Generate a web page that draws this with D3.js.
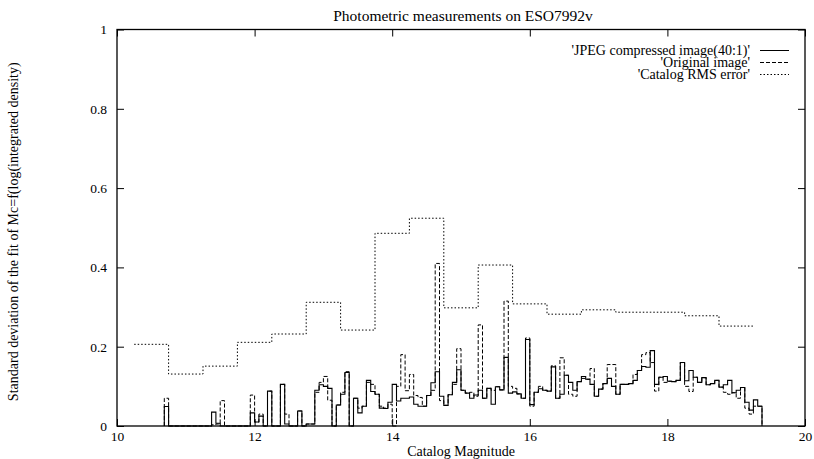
<!DOCTYPE html>
<html>
<head>
<meta charset="utf-8">
<script src="https://cdn.jsdelivr.net/npm/d3@7/dist/d3.min.js"></script>
<style>
  html, body { margin: 0; padding: 0; background: #fff; }
  svg { display: block; }
  text { font-family: "Liberation Serif", "DejaVu Serif", serif; fill: #000; }
</style>
</head>
<body>
<svg id="chart" width="814" height="459"></svg>
<script>
// ---------------- data ----------------
const title = "Photometric measurements on ESO7992v";
const xLabel = "Catalog Magnitude";
const yLabel = "Standard deviation of the fit of Mc=f(log(integrated density)";
const xTicks = [10, 12, 14, 16, 18, 20];
const yTicks = [0, 0.2, 0.4, 0.6, 0.8, 1];
const seriesNames = ["'JPEG compressed image(40:1)'", "'Original image'", "'Catalog RMS error'"];

// fine histograms: bins of 1/16 magnitude starting at 10.6875
const histStart = 10.6875;
const histBin = 0.0625;
const jpegValues = [
  0.049, 0,0,0,0,0,0,0,0,0,0,
  0.035, 0.007, 0,
  0,0,0,0,0,0,
  0.033, 0.01, 0.025, 0, 0.088, 0, 0, 0.105, 0.005, 0,
  0, 0.038, 0, 0.005, 0.005, 0.09, 0.104, 0.1, 0.095, 0,
  0.053, 0.08, 0.135, 0, 0.07, 0.033, 0.05, 0.115, 0.087, 0.08,
  0.045, 0.044, 0.06, 0.105, 0.063, 0.07, 0.07, 0.073, 0.055, 0.05,
  0.05, 0.077, 0.109, 0.137, 0.075, 0.052, 0.079, 0.11, 0.142, 0.09,
  0.083, 0.07, 0.078, 0.09, 0.07, 0.095, 0.055, 0.099, 0.091, 0.173,
  0.083, 0.086, 0.081, 0.07, 0.218, 0.054, 0.085, 0.094, 0.09, 0.088,
  0.149, 0.07, 0.08, 0.128, 0.11, 0.09, 0.112, 0.125, 0.118, 0.105,
  0.075, 0.093, 0.107, 0.12, 0.1, 0.08, 0.105, 0.105, 0.107, 0.115,
  0.14, 0.15, 0.148, 0.19, 0.105, 0.123, 0.125, 0.113, 0.112, 0.115,
  0.16, 0.114, 0.14, 0.123, 0.11, 0.122, 0.104, 0.107, 0.115, 0.098,
  0.104, 0.115, 0.084, 0.09, 0.097, 0.06, 0.04, 0.066, 0.05
];
const origValues = [
  0.07, 0,0,0,0,0,0,0,0,0,0,
  0.003, 0.005, 0.064,
  0,0,0,0,0,0,
  0.078, 0.01, 0.03, 0, 0.088, 0, 0, 0.105, 0.03, 0,
  0, 0.038, 0, 0.005, 0.005, 0.085, 0.11, 0.125, 0.065, 0,
  0.053, 0.085, 0.137, 0, 0.07, 0.045, 0.05, 0.11, 0.105, 0.08,
  0.05, 0.045, 0.055, 0, 0.1, 0.18, 0.089, 0.13, 0.077, 0.072,
  0.05, 0.077, 0.09, 0.41, 0.064, 0.052, 0.079, 0.105, 0.195, 0.09,
  0.083, 0.085, 0.075, 0.255, 0.07, 0.095, 0.09, 0.099, 0.091, 0.315,
  0.1, 0.095, 0.081, 0.07, 0.222, 0.05, 0.085, 0.1, 0.09, 0.088,
  0.152, 0.07, 0.172, 0.128, 0.08, 0.075, 0.112, 0.12, 0.118, 0.145,
  0.075, 0.093, 0.107, 0.155, 0.155, 0.08, 0.105, 0.105, 0.107, 0.13,
  0.14, 0.18, 0.185, 0.16, 0.088, 0.123, 0.11, 0.113, 0.112, 0.115,
  0.16, 0.1, 0.087, 0.123, 0.11, 0.122, 0.104, 0.107, 0.115, 0.098,
  0.085, 0.08, 0.084, 0.07, 0.097, 0.045, 0.03, 0.05, 0.05
];

// coarse catalog RMS error steps
const rmsMag = [10.25, 10.75, 11.25, 11.75, 12.25, 12.75, 13.25, 13.75, 14.25, 14.75, 15.25, 15.75, 16.25, 16.75, 17.25, 17.75, 18.25, 18.75, 19.25];
const rmsValues = [0.206, 0.131, 0.151, 0.211, 0.232, 0.312, 0.242, 0.486, 0.524, 0.298, 0.406, 0.308, 0.282, 0.293, 0.287, 0.287, 0.278, 0.252, 0.252];

// ---------------- layout ----------------
const svg = d3.select("#chart");
const L = 117, R = 805, T = 29.5, B = 426;
const x = d3.scaleLinear().domain([10, 20]).range([L, R]);
const y = d3.scaleLinear().domain([0, 1]).range([B, T]);

const stroke = "#000";

function histPoints(vals) {
  const pts = [[histStart, 0]];
  vals.forEach((v, i) => pts.push([histStart + i * histBin, v]));
  const end = histStart + vals.length * histBin;
  pts.push([end, vals[vals.length - 1]]);
  pts.push([end, 0]);
  return pts;
}
const stepLine = d3.line().x(d => x(d[0])).y(d => y(d[1])).curve(d3.curveStepAfter);

const plot = svg.append("g");
plot.append("path")
  .attr("d", stepLine(histPoints(origValues)))
  .attr("fill", "none").attr("stroke", stroke).attr("stroke-width", 1)
  .attr("stroke-dasharray", "4,2");
plot.append("path")
  .attr("d", stepLine(histPoints(jpegValues)))
  .attr("fill", "none").attr("stroke", stroke).attr("stroke-width", 1.1);
plot.append("path")
  .attr("d", stepLine(rmsMag.map((m, i) => [m, rmsValues[i]])))
  .attr("fill", "none").attr("stroke", stroke).attr("stroke-width", 1)
  .attr("stroke-dasharray", "1.5,2");

// frame
svg.append("rect").attr("x", L).attr("y", T).attr("width", R - L).attr("height", B - T)
  .attr("fill", "none").attr("stroke", "#000").attr("stroke-width", 1.3);

// axes with inward ticks
const tickLen = 7;
const xAxisB = d3.axisBottom(x).tickValues(xTicks).tickSizeInner(-tickLen).tickSizeOuter(0).tickPadding(5).tickFormat(d3.format("d"));
const gxb = svg.append("g").attr("transform", `translate(0,${B})`).call(xAxisB);
const xAxisT = d3.axisTop(x).tickValues(xTicks).tickSizeInner(-tickLen).tickSizeOuter(0).tickFormat("");
const gxt = svg.append("g").attr("transform", `translate(0,${T})`).call(xAxisT);
const yAxisL = d3.axisLeft(y).tickValues(yTicks).tickSizeInner(-tickLen).tickSizeOuter(0).tickPadding(10).tickFormat(d => d === 0 ? "0" : d === 1 ? "1" : d3.format(".1f")(d));
const gyl = svg.append("g").attr("transform", `translate(${L},0)`).call(yAxisL);
const yAxisR = d3.axisRight(y).tickValues(yTicks).tickSizeInner(-tickLen).tickSizeOuter(0).tickFormat("");
const gyr = svg.append("g").attr("transform", `translate(${R},0)`).call(yAxisR);
[gxb, gxt, gyl, gyr].forEach(g => {
  g.select(".domain").remove();
  g.selectAll("line").attr("stroke", "#000").attr("stroke-width", 1);
  g.selectAll("text").style("font-family", "'Liberation Serif', serif").style("font-size", "13.5px").attr("fill", "#000");
});

// title and labels
svg.append("text").attr("x", 463).attr("y", 21).attr("text-anchor", "middle")
  .style("font-size", "15.5px").text(title);
svg.append("text").attr("x", 461).attr("y", 456).attr("text-anchor", "middle")
  .style("font-size", "14px").text(xLabel);
svg.append("text").attr("transform", `translate(18,${(T + B) / 2 + 4}) rotate(-90)`)
  .attr("text-anchor", "middle").style("font-size", "14px").text(yLabel);

// legend
const legendDash = [null, "4,2", "1.5,2"];
const legend = svg.append("g");
seriesNames.forEach((name, i) => {
  const cy = 50.5 + i * 12;
  legend.append("text").attr("x", 750).attr("y", cy + 4).attr("text-anchor", "end")
    .style("font-size", "14px").text(name);
  const ln = legend.append("line").attr("x1", 760).attr("x2", 789).attr("y1", cy).attr("y2", cy)
    .attr("stroke", "#000").attr("stroke-width", 1);
  if (legendDash[i]) ln.attr("stroke-dasharray", legendDash[i]);
});
</script>
</body>
</html>
